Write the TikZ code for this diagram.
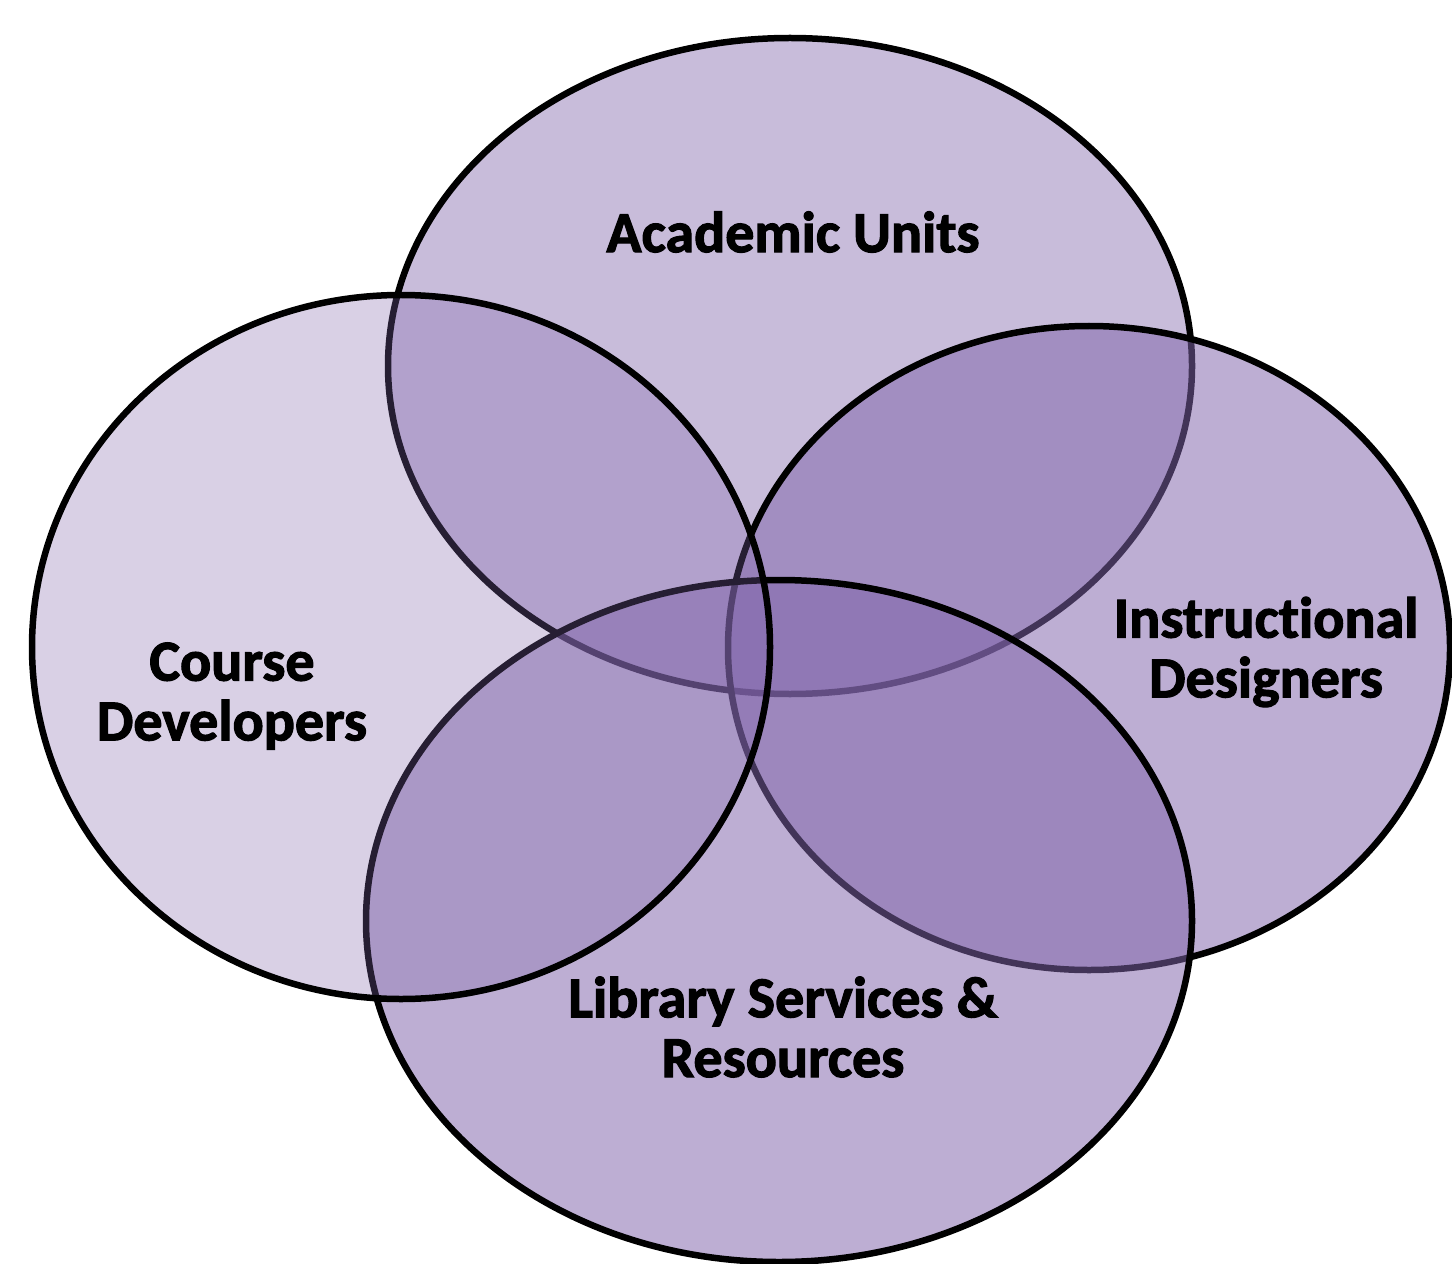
\documentclass[tikz,border=0pt]{standalone}
\usepackage{fontspec}
\setmainfont{Carlito}[Ligatures=NoCommon, BoldFeatures={FakeBold=2}]
\definecolor{vennpurple}{RGB}{128,100,170}
\tikzset{
  venn/.style={draw=black, line width=0.13cm, fill=vennpurple},
  vennlabel/.style={font=\bfseries\fontsize{33}{34}\selectfont, align=center, text=black}
}
\begin{document}
\begin{tikzpicture}[x=0.02cm, y=-0.02cm]
\useasboundingbox (0,0) rectangle (1452,1263);
% academic, instructional, library, course (bottom to top)
\foreach \cx/\cy/\rx/\ry/\op in {790/366/402/328/0.43, 1089/648/361/322/0.52, 779/921/413/341/0.52, 401/647/369/352/0.30}
{
\draw[venn, fill opacity=\op] (\cx,\cy) ellipse [x radius=\rx, y radius=\ry];
}
\node[vennlabel] (acad) at (793,232) {Academic Units};
\node[vennlabel] (course) at (232,696) {Course\\Developers};
\node[vennlabel] (instr) at (1266,652) {Instructional\\Designers};
\node[vennlabel] (library) at (783,1027) {Library Services \&\\Resources};
\end{tikzpicture}
\end{document}
